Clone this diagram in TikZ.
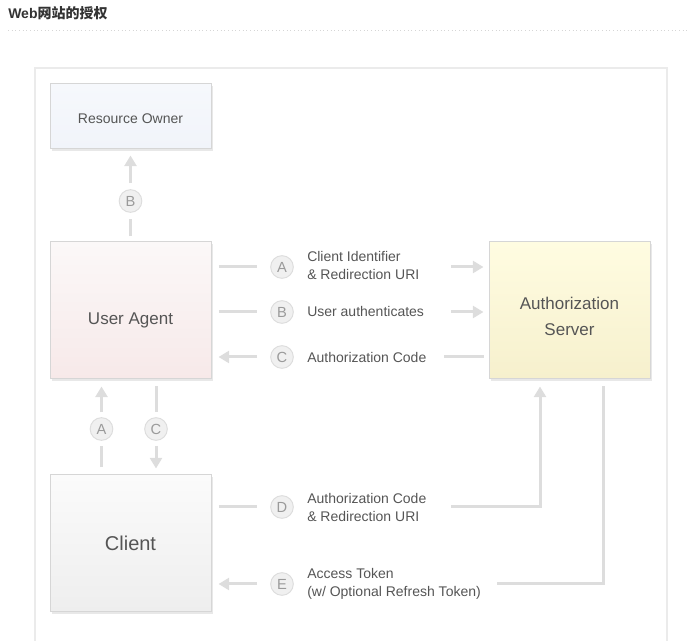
\documentclass[tikz,border=0pt]{standalone}
\usepackage{fontspec}
\setmainfont{Liberation Sans}
\newfontfamily\cjk{Noto Sans CJK SC}
\usetikzlibrary{arrows.meta,calc,shadows}
\definecolor{lineC}{HTML}{DDDDDD}
\definecolor{frameC}{HTML}{EBEBEB}
\definecolor{borderC}{HTML}{D6D6D6}
\definecolor{txtC}{HTML}{555555}
\definecolor{circTxt}{HTML}{9A9A9A}
\definecolor{circFill}{HTML}{F0F0F0}
\definecolor{roTop}{HTML}{F6F8FC}
\definecolor{roBot}{HTML}{F1F4FA}
\definecolor{uaTop}{HTML}{FBF8F8}
\definecolor{uaBot}{HTML}{F7E9E9}
\definecolor{asTop}{HTML}{FFFCE1}
\definecolor{asBot}{HTML}{F6F0CD}
\definecolor{clTop}{HTML}{FBFBFB}
\definecolor{clBot}{HTML}{EEEEEE}
\definecolor{titleC}{HTML}{333333}
\tikzset{
  box/.style={draw=borderC, line width=0.75pt, rectangle, inner sep=0pt,
    minimum width=120.75pt,
    drop shadow={shadow xshift=1.5pt, shadow yshift=-1.5pt, fill=black!9, opacity=1}},
  boxtext/.style={text=txtC, align=center, inner sep=0pt},
  conn/.style={draw=lineC, line width=2.25pt},
  arr/.style={-{Triangle[width=9pt,length=8pt]}},
  circ/.style={circle, draw=lineC, fill=circFill, line width=0.75pt, inner sep=0pt,
    minimum size=17pt, text=circTxt, font=\fontsize{11}{12}\selectfont},
  lbl/.style={anchor=west, align=left, text=txtC, inner sep=0pt,
    font=\fontsize{10.5}{13.5}\selectfont},
}
\begin{document}
\begin{tikzpicture}[x=0.75pt,y=-0.75pt]
\useasboundingbox (0,0) rectangle (687,641);
% title
\node[anchor=west, inner sep=0pt, text=titleC, font=\bfseries\fontsize{10.5}{12}\selectfont] (title) at (8,13) {Web{\cjk\bfseries 网站的授权}};
\draw[draw=borderC, line width=0.75pt, dotted] (8,31) -- (687,31);
% outer frame
\draw[draw=frameC, line width=1.8pt] (35,645) -- (35,68) -- (667,68) -- (667,645);
% boxes
\node[box, minimum height=48.75pt, top color=roTop, bottom color=roBot,
  label={[boxtext, yshift=-1.5pt, font=\fontsize{10.5}{13}\selectfont]center:Resource Owner}] (ro) at (130.5,116.5) {};
\node[box, minimum height=102.75pt, top color=uaTop, bottom color=uaBot,
  label={[boxtext, yshift=-7.5pt, font=\fontsize{12.75}{15}\selectfont]center:User Agent}] (ua) at (130.5,310.5) {};
\node[box, minimum height=102.75pt, top color=clTop, bottom color=clBot,
  label={[boxtext, yshift=0pt, font=\fontsize{15}{18}\selectfont]center:Client}] (cl) at (130.5,543.5) {};
\node[box, minimum height=102.75pt, top color=asTop, bottom color=asBot,
  label={[boxtext, yshift=-4.5pt, font=\fontsize{12.75}{19.5}\selectfont]center:Authorization\\Server}] (as) at (569.5,310.5) {};
% circles
\node[circ] (cB2) at (130.5,201) {B};
\node[circ] (cA2) at (101.5,429) {A};
\node[circ] (cC2) at (156,429) {C};
\node[circ] (cA) at (282,267) {A};
\node[circ] (cB) at (282,312) {B};
\node[circ] (cC) at (282,357) {C};
\node[circ] (cD) at (282,507) {D};
\node[circ] (cE) at (282,584) {E};
% labels
\node[lbl] (lA) at (307,266) {Client Identifier\\\& Redirection URI};
\node[lbl] (lB) at (307,312) {User authenticates};
\node[lbl] (lC) at (307,358) {Authorization Code};
\node[lbl] (lD) at (307,508) {Authorization Code\\\& Redirection URI};
\node[lbl] (lE) at (307,584) {Access Token\\(w/ Optional Refresh Token)};
% vertical B
\draw[conn] ($(ua.north)+(0,-5)$) -- ($(cB2.south)+(0,6)$);
\draw[conn,arr] ($(cB2.north)+(0,-6)$) -- ($(ro.south)+(0,6)$);
% vertical A
\draw[conn] ($(cl.north -| cA2)+(0,-7)$) -- ($(cA2.south)+(0,5)$);
\draw[conn,arr] ($(cA2.north)+(0,-5)$) -- ($(ua.south -| cA2)+(0,7)$);
% vertical C
\draw[conn] ($(ua.south -| cC2)+(0,7)$) -- ($(cC2.north)+(0,-5)$);
\draw[conn,arr] ($(cC2.south)+(0,5)$) -- ($(cl.north -| cC2)+(0,-6)$);
% A
\draw[conn] ($(ua.east |- cA)+(7,0)$) -- ($(cA.west)+(-13,0)$);
\draw[conn,arr] ($(cA)+(169,0)$) -- ($(as.west |- cA)+(-5,0)$);
% B
\draw[conn] ($(ua.east |- cB)+(7,0)$) -- ($(cB.west)+(-13,0)$);
\draw[conn,arr] ($(cB)+(169,0)$) -- ($(as.west |- cB)+(-5,0)$);
% C
\draw[conn,arr] ($(cC.west)+(-13,0)$) -- ($(ua.east |- cC)+(7,0)$);
\draw[conn] ($(cC)+(162,0)$) -- ($(as.west |- cC)+(-5,0)$);
% D
\draw[conn] ($(cl.east |- cD)+(7,0)$) -- ($(cD.west)+(-13,0)$);
\draw[conn,arr] ($(cD)+(169,0)$) -| ($(as.south)+(-29.5,7)$);
% E
\draw[conn,arr] ($(cE.west)+(-13,0)$) -- ($(cl.east |- cE)+(7,0)$);
\draw[conn] ($(cE)+(215,0)$) -| ($(as.south)+(34,7)$);
\end{tikzpicture}
\end{document}
